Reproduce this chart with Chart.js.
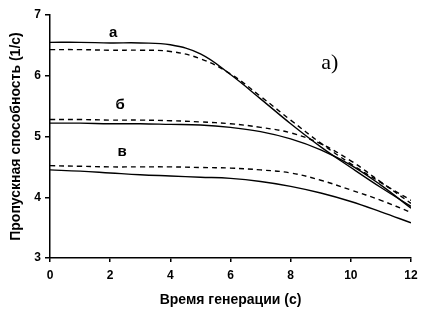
<!DOCTYPE html>
<html>
<head>
<meta charset="utf-8">
<script src="https://cdn.jsdelivr.net/npm/chart.js@4.4.1/dist/chart.umd.min.js"></script>
<style>
  html, body { margin: 0; padding: 0; background: #fff; }
  #wrap { width: 437px; height: 321px; }
</style>
</head>
<body>
<div id="wrap"><canvas id="myChart" width="437" height="321"></canvas></div>
<script>
// time of generation, s
const times = [0, 1, 2, 3, 4, 5, 6, 7, 8, 9, 10, 11, 12];
// throughput, 1/s
const aSolid = [6.55, 6.55, 6.54, 6.54, 6.51, 6.36, 6.02, 5.62, 5.21, 4.83, 4.49, 4.16, 3.85];
const aDash  = [6.43, 6.43, 6.42, 6.42, 6.40, 6.28, 6.03, 5.66, 5.27, 4.89, 4.55, 4.24, 3.95];
const bSolid = [5.22, 5.22, 5.21, 5.21, 5.20, 5.19, 5.15, 5.08, 4.96, 4.78, 4.53, 4.20, 3.82];
const bDash  = [5.28, 5.28, 5.27, 5.27, 5.26, 5.24, 5.21, 5.15, 5.06, 4.88, 4.60, 4.25, 3.90];
const vDash  = [4.52, 4.51, 4.50, 4.50, 4.50, 4.49, 4.48, 4.45, 4.40, 4.28, 4.12, 3.95, 3.75];
const vSolid = [4.45, 4.43, 4.40, 4.37, 4.35, 4.33, 4.31, 4.26, 4.18, 4.07, 3.93, 3.76, 3.58];

// curve labels (text, x, y in data units)
const curveLabels = ['а', 'б', 'в'];
const curveLabelX = [2.1, 2.33, 2.4];
const curveLabelY = [6.7, 5.52, 4.75];
const panelLabel = 'а)';
const panelLabelX = 9.3;
const panelLabelY = 6.2;

const toPoints = (arr) => times.map((t, i) => ({ x: t, y: arr[i] }));

const line = (label, arr, dashed) => ({
    label: label,
    data: toPoints(arr),
    borderColor: '#000',
    borderWidth: 1.4,
    borderDash: dashed ? [5, 4] : [],
    pointRadius: 0,
    fill: false,
    tension: 0.4
});

const textPlugin = {
    id: 'curveText',
    afterDatasetsDraw(chart) {
        const ctx = chart.ctx;
        const xs = chart.scales.x, ys = chart.scales.y;
        ctx.save();
        ctx.fillStyle = '#000';
        ctx.textAlign = 'center';
        ctx.textBaseline = 'middle';
        ctx.font = 'bold 15px "Liberation Sans", Arial, sans-serif';
        curveLabels.forEach((t, i) => {
            ctx.fillText(t, xs.getPixelForValue(curveLabelX[i]), ys.getPixelForValue(curveLabelY[i]));
        });
        ctx.font = '22px "Liberation Serif", "Times New Roman", serif';
        ctx.fillText(panelLabel, xs.getPixelForValue(panelLabelX), ys.getPixelForValue(panelLabelY));
        ctx.restore();
    }
};

let myChart = document.getElementById('myChart').getContext('2d');
let chart = new Chart(myChart, {
    type: 'line',
    data: {
        datasets: [
            line('а', aSolid, false),
            line('а', aDash, true),
            line('б', bSolid, false),
            line('б', bDash, true),
            line('в', vDash, true),
            line('в', vSolid, false)
        ]
    },
    options: {
        responsive: false,
        animation: false,
        layout: { padding: { top: 15, right: 26, left: 0, bottom: 0 } },
        plugins: { legend: { display: false }, tooltip: { enabled: false } },
        scales: {
            x: {
                type: 'linear',
                min: 0, max: 12,
                border: { display: true, color: '#000', width: 1.5 },
                grid: { display: true, drawOnChartArea: false, drawTicks: true, tickLength: 4, color: '#000', lineWidth: 1.5 },
                ticks: {
                    stepSize: 2, color: '#000', padding: 6, maxRotation: 0,
                    font: { family: '"Liberation Sans", Arial, sans-serif', size: 12, weight: 'bold' }
                },
                title: {
                    display: true, text: 'Время генерации (с)', color: '#000',
                    font: { family: '"Liberation Sans", Arial, sans-serif', size: 14, weight: 'bold' },
                    padding: { top: 0, bottom: 12 }
                },
                afterFit: (s) => { s.height = 63; }
            },
            y: {
                min: 3, max: 7,
                border: { display: true, color: '#000', width: 1.5 },
                grid: { display: true, drawOnChartArea: false, drawTicks: true, tickLength: 5, color: '#000', lineWidth: 1.5 },
                ticks: {
                    stepSize: 1, color: '#000', padding: 4,
                    font: { family: '"Liberation Sans", Arial, sans-serif', size: 12, weight: 'bold' }
                },
                title: {
                    display: true, text: 'Пропускная способность (1/с)', color: '#000',
                    font: { family: '"Liberation Sans", Arial, sans-serif', size: 14, weight: 'bold' },
                    padding: { top: 8, bottom: 0 }
                },
                afterFit: (s) => { s.width = 50; }
            }
        }
    },
    plugins: [textPlugin]
});
</script>
</body>
</html>
